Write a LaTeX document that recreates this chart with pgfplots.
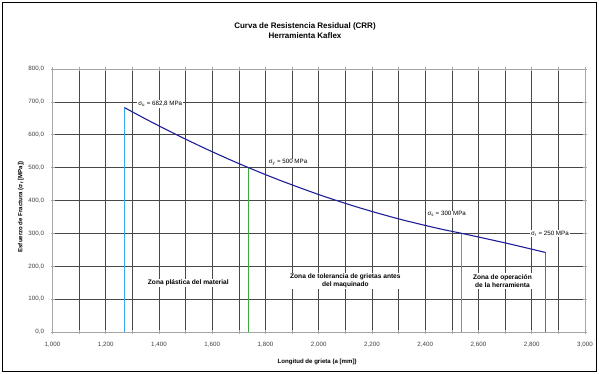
\documentclass[border=0pt]{standalone}
\usepackage{fontspec}
\setmainfont{Liberation Sans}
\usepackage{pgfplots}
\pgfplotsset{compat=1.18}
\definecolor{curve}{HTML}{1F1F9A}
\definecolor{cblue}{HTML}{3AA8F0}
\definecolor{cgreen}{HTML}{3CAA3C}
\definecolor{cred}{HTML}{FF5A5A}
\definecolor{cdred}{HTML}{B05050}
\begin{document}
\begin{tikzpicture}[x=1pt,y=1pt]
\useasboundingbox (0,0) rectangle (599,374);
\draw[black, line width=0.9pt] (2.5,2.5) rectangle (596.5,371.5);
\node[font=\bfseries\fontsize{8}{10}\selectfont, align=center] at (305,343) {Curva de Resistencia Residual (CRR)\\Herramienta Kaflex};
\begin{axis}[
  at={(52.5pt,42pt)}, anchor=south west,
  scale only axis, width=532.5pt, height=263pt,
  xmin=1, xmax=3, ymin=0, ymax=800,
  xtick={1,1.2,1.4,1.6,1.8,2,2.2,2.4,2.6,2.8,3},
  minor xtick={1.1,1.3,1.5,1.7,1.9,2.1,2.3,2.5,2.7,2.9},
  ytick={0,100,200,300,400,500,600,700,800},
  grid=both,
  major grid style={draw=black!72, line width=0.75pt},
  minor grid style={draw=black!72, line width=0.75pt},
  axis line style={draw=gray!70, line width=0.7pt},
  tick style={draw=gray!70, line width=0.6pt},
  tick align=center, major tick length=4pt, minor tick length=4pt,
  /pgf/number format/assume math mode=true,
  xticklabel style={font=\fontsize{6.2}{7}\selectfont, text=black!75, yshift=-4.5pt,
    /pgf/number format/.cd, fixed, fixed zerofill, precision=3, use comma, 1000 sep={}},
  yticklabel style={font=\fontsize{6.2}{7}\selectfont, text=black!75, xshift=-3pt,
    /pgf/number format/.cd, fixed, fixed zerofill, precision=1, use comma, 1000 sep={}},
  xlabel={Longitud de grieta (a [mm])},
  ylabel={Esfuerzo de Fractura (σ\textsubscript{f} [MPa])},
  xlabel style={font=\bfseries\fontsize{6.1}{7}\selectfont, at={(axis description cs:0.497,-0.114)}, anchor=center},
  ylabel style={font=\bfseries\fontsize{6.1}{7}\selectfont, at={(axis description cs:-0.0597,0.475)}, anchor=center},
  clip=false,
]
\addplot[cblue, line width=1pt] coordinates {(1.27,0) (1.27,682.8)};
\addplot[cgreen, line width=1pt] coordinates {(1.736,0) (1.736,500)};
\addplot[cred, line width=1pt] coordinates {(2.537,0) (2.537,300)};
\addplot[cdred, line width=1pt] coordinates {(2.851,0) (2.851,242)};
\addplot[curve, line width=1.1pt, smooth] coordinates {
(1.27,682.8) (1.35,647.9) (1.45,606.4) (1.55,567.1) (1.65,530.0) (1.736,500)
(1.85,462.7) (2.0,418.1) (2.15,378.6) (2.3,344.1) (2.45,314.7) (2.537,300)
(2.7,271) (2.851,242)};
\node[fill=white, inner sep=1pt, anchor=west, font=\fontsize{6.2}{7}\selectfont] at (axis cs:1.318,693) {σ\textsubscript{u} = 682,8 MPa};
\node[fill=white, inner sep=1pt, anchor=west, font=\fontsize{6.2}{7}\selectfont] at (axis cs:1.808,515) {σ\textsubscript{y} = 500 MPa};
\node[fill=white, inner sep=1pt, anchor=west, font=\fontsize{6.2}{7}\selectfont] at (axis cs:2.404,358) {σ\textsubscript{s} = 300 MPa};
\node[fill=white, inner sep=1pt, anchor=west, font=\fontsize{6.2}{7}\selectfont] at (axis cs:2.793,300) {σ\textsubscript{r} = 250 MPa};
\node[fill=white, inner sep=1pt, font=\bfseries\fontsize{6.6}{8.5}\selectfont, align=center] at (axis cs:1.51,150) {Zona plástica del material};
\node[fill=white, inner sep=1pt, font=\bfseries\fontsize{6.6}{8.5}\selectfont, align=center] at (axis cs:2.10,155) {Zona de tolerancia de grietas antes\\del maquinado};
\node[fill=white, inner sep=1pt, font=\bfseries\fontsize{6.6}{8.5}\selectfont, align=center] at (axis cs:2.69,155) {Zona de operación\\de la herramienta};
\end{axis}
\end{tikzpicture}
\end{document}
